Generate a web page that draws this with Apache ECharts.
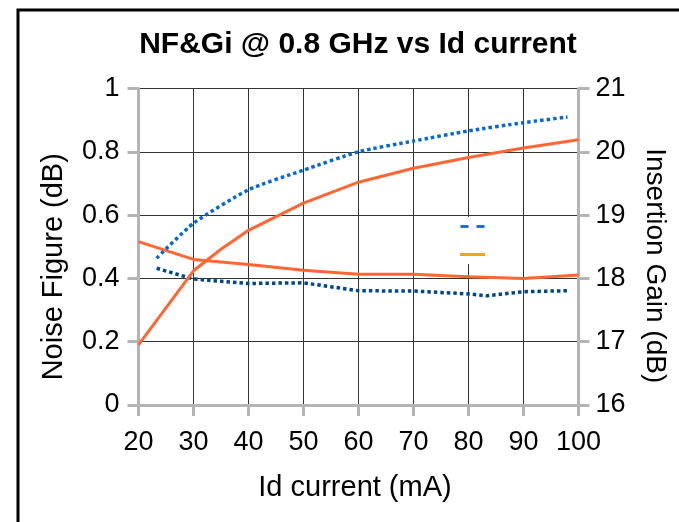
<!DOCTYPE html>
<html>
<head>
<meta charset="utf-8">
<script src="https://cdn.jsdelivr.net/npm/echarts@6/dist/echarts.min.js"></script>
<style>html,body{margin:0;padding:0;background:#fff}#c{width:679px;height:522px}</style>
</head>
<body>
<div id="c"></div>
<script>
// Dark blue dotted NF (left axis)
var xNFa = [23.3, 30, 40, 50, 60, 70, 80, 83.3, 90, 98];
var nfA  = [0.432, 0.398, 0.384, 0.386, 0.361, 0.360, 0.351, 0.345, 0.358, 0.361];
// Orange solid NF (left axis)
var xNFb = [20, 30, 40, 50, 60, 70, 80, 90, 100];
var nfB  = [0.516, 0.460, 0.444, 0.426, 0.413, 0.413, 0.405, 0.400, 0.411];
// Light blue dotted gain (right axis)
var xGa = [23.3, 30, 40, 50, 60, 70, 80, 90, 98];
var giA = [18.32, 18.87, 19.40, 19.71, 20.00, 20.17, 20.33, 20.46, 20.55];
// Orange solid gain (right axis)
var xGb = [20, 30, 35, 40, 50, 60, 70, 80, 90, 100];
var giB = [16.95, 18.12, 18.46, 18.76, 19.19, 19.52, 19.74, 19.91, 20.06, 20.19];

function pairs(xs, ys){ return xs.map(function(x,i){ return [x, ys[i]]; }); }

var FONT = 'Liberation Sans';
var chart = echarts.init(document.getElementById('c'), null, {renderer:'canvas'});
chart.setOption({
  animation: false,
  backgroundColor: '#fff',
  title: {
    text: 'NF&Gi @ 0.8 GHz vs Id current',
    left: 353, top: 25, textAlign: 'center',
    textStyle: {fontFamily: FONT, fontSize: 30, fontWeight: 'bold', color: '#000'}
  },
  graphic: [{
    type: 'rect', silent: true, z: -1,
    shape: {x: 18, y: 10, width: 700, height: 600},
    style: {fill: 'none', stroke: '#000', lineWidth: 3}
  }],
  legend: {
    orient: 'vertical', left: 454, top: 217,
    itemWidth: 25, itemHeight: 3, itemGap: 25,
    padding: [8, 6, 8, 6],
    backgroundColor: '#fff',
    formatter: function(){ return ''; },
    textStyle: {fontSize: 1},
    data: [
      {name: 'Gi_a', icon: 'path://M0,0h8v3h-8z M16,0h8v3h-8z', itemStyle: {color: '#1a6fd0', borderWidth: 0}},
      {name: 'Gi_b', icon: 'rect', itemStyle: {color: '#f9a11b', borderWidth: 0}}
    ]
  },
  grid: {left: 138.5, right: 100.5, top: 88.5, bottom: 117},
  xAxis: {
    type: 'value', min: 20, max: 100, interval: 10,
    name: 'Id current (mA)', nameLocation: 'middle', nameGap: 68,
    nameTextStyle: {fontFamily: FONT, fontSize: 29, color: '#000', padding: [0, 7, 0, 0]},
    axisLine: {show: true, onZero: false, lineStyle: {color: '#b4b4b4', width: 3}},
    axisTick: {show: true, length: 11, lineStyle: {color: '#b4b4b4', width: 3}},
    axisLabel: {fontFamily: FONT, fontSize: 27, color: '#000', margin: 24},
    splitLine: {show: true, lineStyle: {color: '#333', width: 1}}
  },
  yAxis: [{
    type: 'value', min: 0, max: 1, interval: 0.2, position: 'left',
    name: 'Noise Figure (dB)', nameLocation: 'middle', nameGap: 70,
    nameTextStyle: {fontFamily: FONT, fontSize: 29, color: '#000', padding: [0, 40, 0, 0]},
    axisLine: {show: true, lineStyle: {color: '#b4b4b4', width: 3}},
    axisTick: {show: true, length: 11, lineStyle: {color: '#b4b4b4', width: 3}},
    axisLabel: {fontFamily: FONT, fontSize: 27, color: '#000', margin: 19},
    splitLine: {show: true, lineStyle: {color: '#333', width: 1}}
  }, {
    type: 'value', min: 16, max: 21, interval: 1, position: 'right',
    name: 'Insertion Gain (dB)', nameLocation: 'middle', nameGap: 62, nameRotate: -90,
    nameTextStyle: {fontFamily: FONT, fontSize: 28, color: '#000', padding: [0, 0, 0, 38]},
    axisLine: {show: true, lineStyle: {color: '#b4b4b4', width: 3}},
    axisTick: {show: true, length: 11, lineStyle: {color: '#b4b4b4', width: 3}},
    axisLabel: {fontFamily: FONT, fontSize: 27, color: '#000', margin: 17},
    splitLine: {show: false}
  }],
  series: [
    {name: 'NF_a', type: 'line', yAxisIndex: 0, data: pairs(xNFa, nfA), symbol: 'none',
     lineStyle: {color: '#00478a', width: 3.5, type: [3.5, 3]}, itemStyle: {color: '#00478a'}},
    {name: 'NF_b', type: 'line', yAxisIndex: 0, data: pairs(xNFb, nfB), symbol: 'none',
     lineStyle: {color: '#ff6633', width: 3}, itemStyle: {color: '#ff6633'}},
    {name: 'Gi_a', type: 'line', yAxisIndex: 1, data: pairs(xGa, giA), symbol: 'none', smooth: 0.2,
     lineStyle: {color: '#0a68cc', width: 3.5, type: [3.5, 3]}, itemStyle: {color: '#0a68cc'}},
    {name: 'Gi_b', type: 'line', yAxisIndex: 1, data: pairs(xGb, giB), symbol: 'none',
     lineStyle: {color: '#ff6633', width: 3}, itemStyle: {color: '#ff6633'}}
  ]
});
</script>
</body>
</html>
